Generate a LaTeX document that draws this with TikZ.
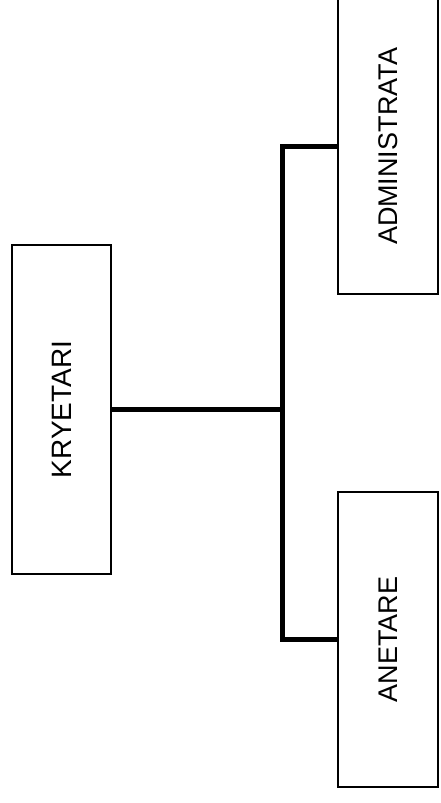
\documentclass[tikz,border=0pt]{standalone}
\usepackage{fontspec}
\setmainfont{Liberation Sans}
\newfontfamily\orgfont{Liberation Sans}
\begin{document}
\begin{tikzpicture}[x=1pt,y=1pt,
  orgbox/.style={draw=black, line width=1.4pt, rotate=90, inner sep=0pt, fill=white},
  conn/.style={draw=black, line width=5pt, line join=miter}]
\useasboundingbox (0,0) rectangle (441,803);
\node[orgbox, minimum width=329pt, minimum height=99pt, font=\orgfont\fontsize{28}{34}\selectfont] (k) at (61.5,393.5) {KRYETARI};
\node[orgbox, minimum width=295pt, minimum height=100pt, font=\orgfont\fontsize{27}{32}\selectfont] (a) at (388,656.5) {ADMINISTRATA};
\node[orgbox, minimum width=295pt, minimum height=100pt, font=\orgfont\fontsize{27}{32}\selectfont] (n) at (388,163.5) {ANETARE};
\coordinate (bus) at (282,393.5);
\draw[conn] (k.south) -- (bus);
\draw[conn] (a.north) -| (bus) |- (n.north);
\end{tikzpicture}
\end{document}
